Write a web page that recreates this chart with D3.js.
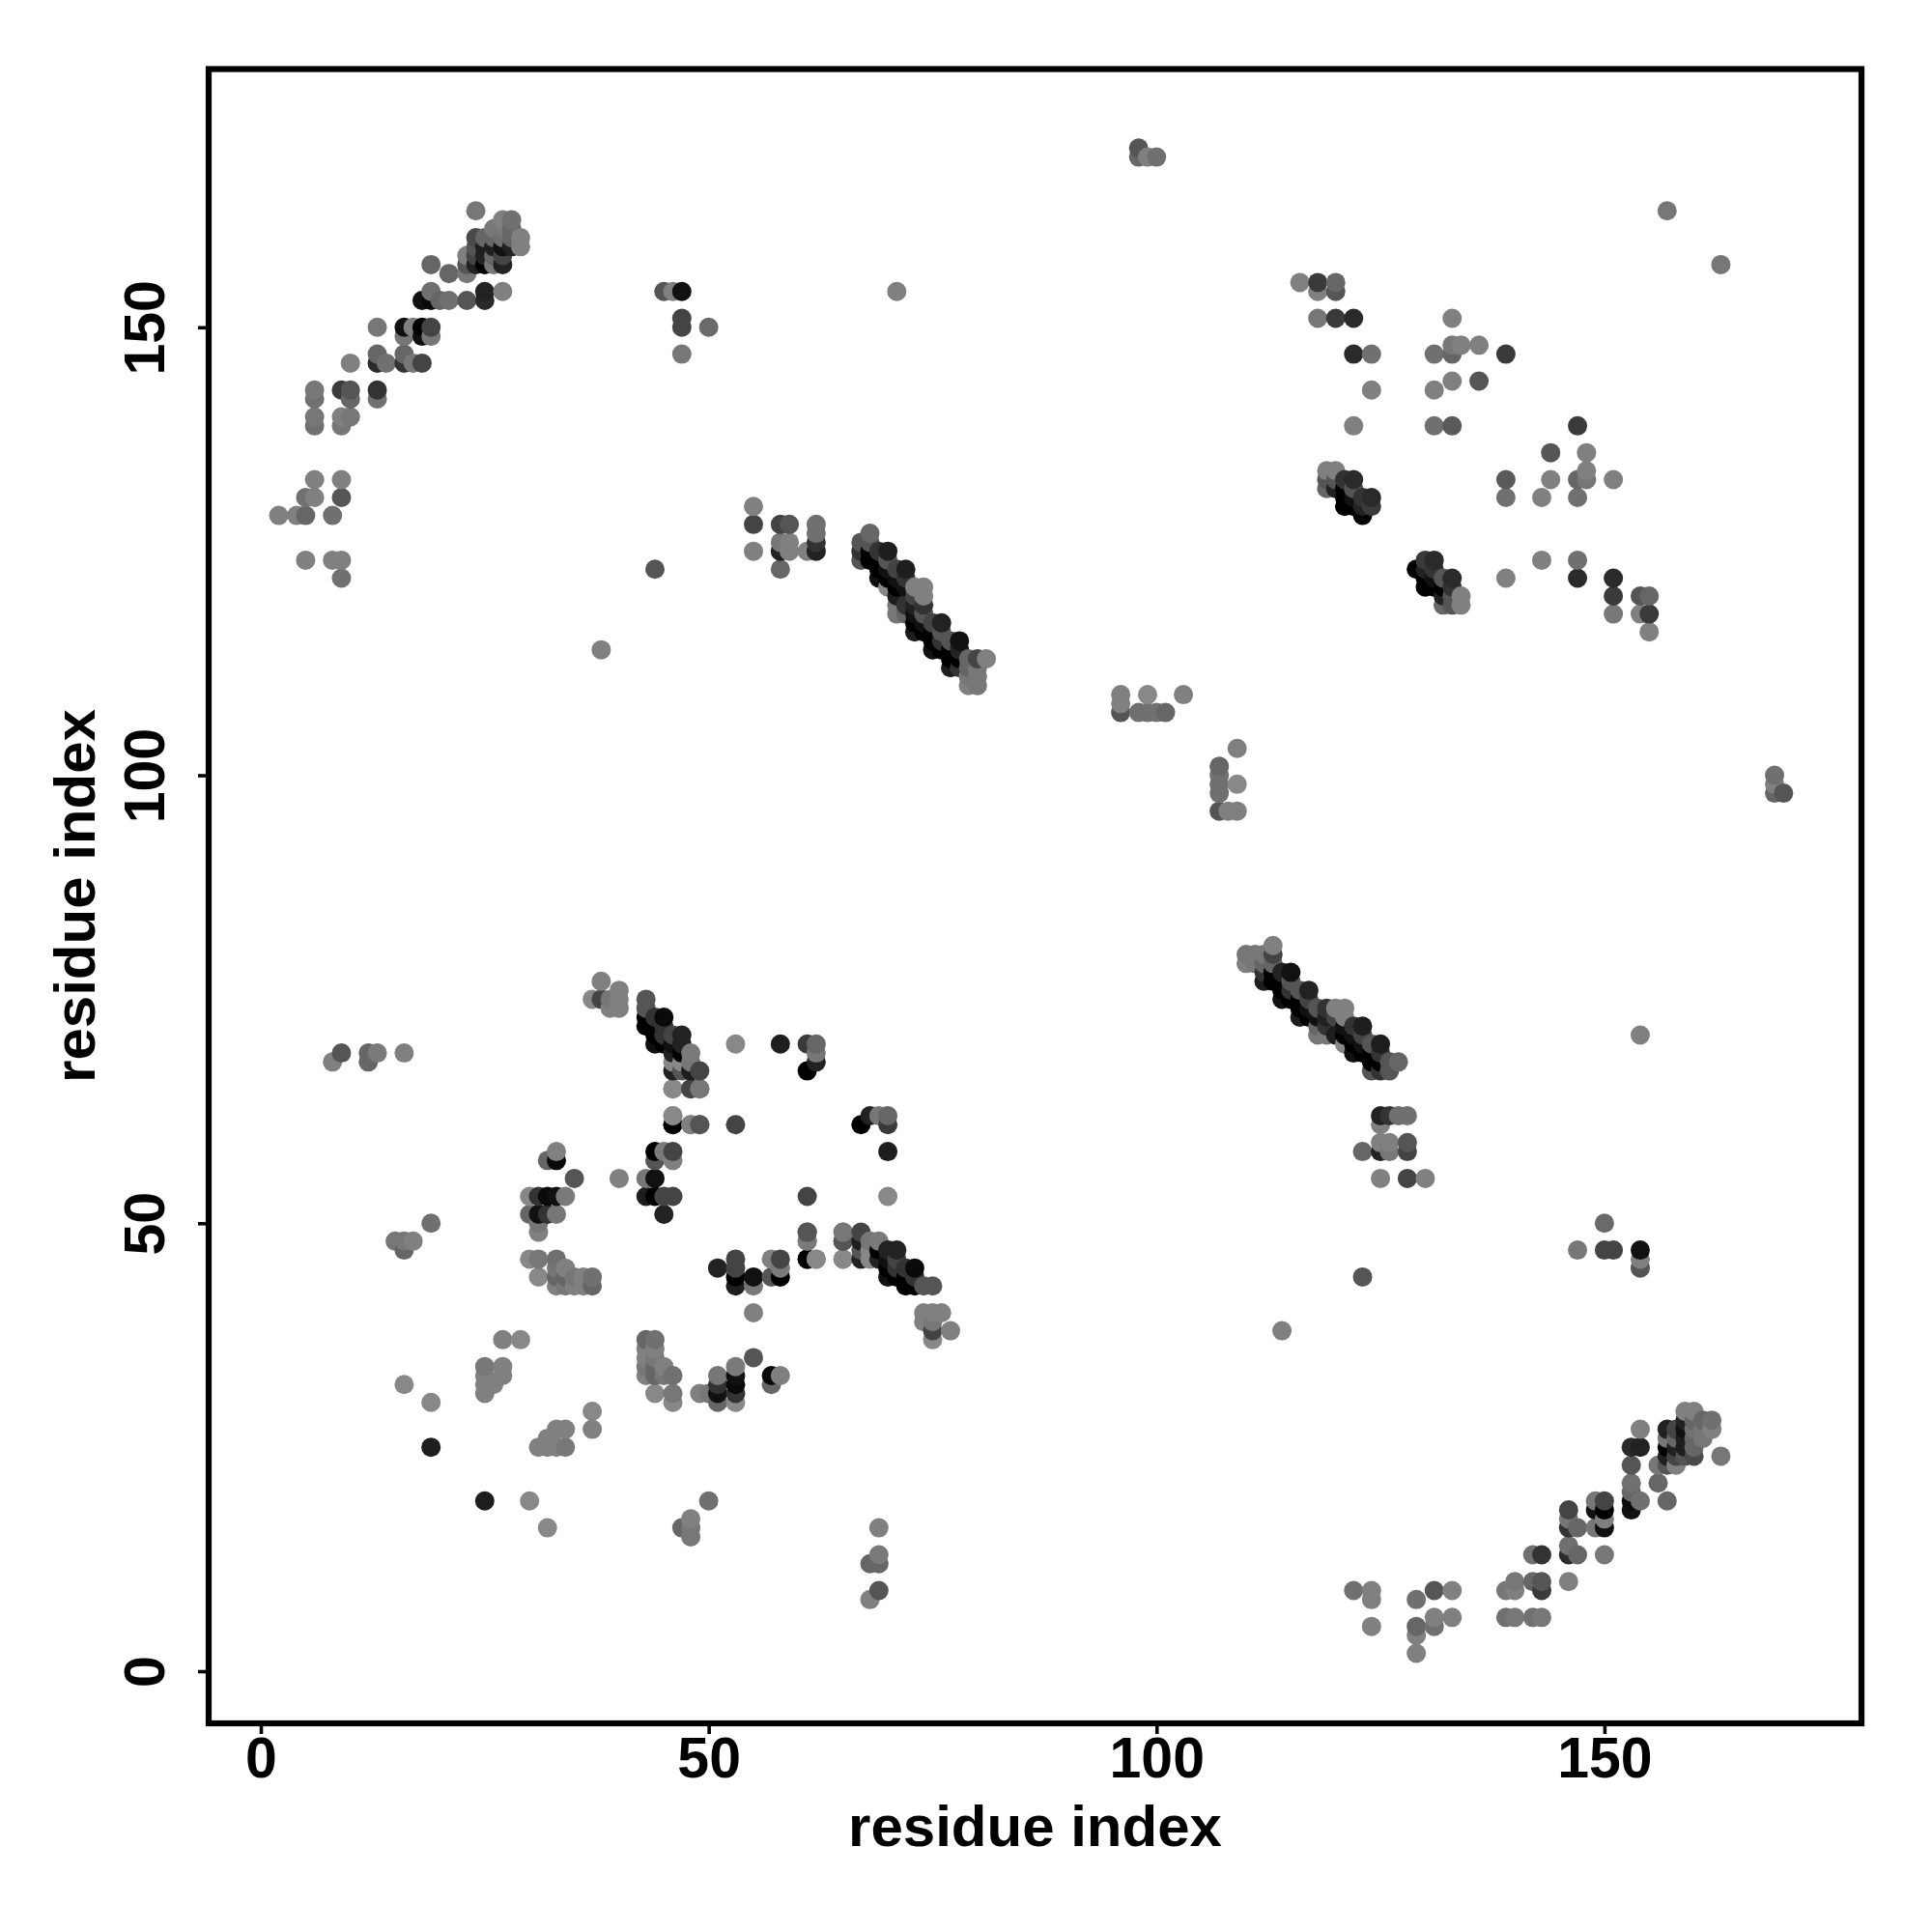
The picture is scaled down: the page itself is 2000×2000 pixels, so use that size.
<!DOCTYPE html>
<html><head><meta charset="utf-8">
<style>html,body{margin:0;background:#fff}svg{display:block}text{font-family:"Liberation Sans",Arial,sans-serif;font-weight:700;fill:#000}</style>
<script src="https://cdn.jsdelivr.net/npm/d3@7/dist/d3.min.js"></script>
</head><body><svg id="c" width="2000" height="2000"></svg>
<script>
// Each contact: [residue i, residue j, grey level 0-136]. The map is symmetric, (j,i) is drawn as well.
const xTicks=[0,50,100,150], yTicks=[0,50,100,150];
const xTitle="residue index", yTitle="residue index";
const cluster68=[[8,68,0x80],[9,69,0x55],[12,69,0x66],[12,68,0x66],[13,69,0x7a],[16,69,0x80]];
const cluster48=[[19,50,0x70],[15,48,0x77],[16,48,0x77],[17,48,0x80],[16,47,0x66]];
const cluster75=[[38,77,0x80],[37,75,0x88],[38,75,0x44],[39,75,0x77],[40,76,0x80],[40,75,0x80],[39,74,0x80],[40,74,0x80]];
const sheet43=[[43,75,0x55],[43,74,0x55],[43,73,0],[43,72,0],[44,73,0x33],[45,73,0x0a],[44,72,0],[44,71,0],[44,70,0x11],[45,72,0x33],[45,71,0x33],[45,70,0],[46,71,0x44],[47,71,0x22],[46,70,0x11],[47,70,0x22],[46,69,0x22],[47,69,0],[48,69,0x7a],[48,68,0x77],[46,68,0x88],[47,68,0x88],[46,67,0x22],[47,67,0x55],[48,67,0x1e],[49,67,0x44],[46,65,0x88],[48,65,0x55],[49,65,0x77],[46,62,0x88],[46,61,0],[48,61,0x7a],[49,61,0x55],[53,61,0x44],[53,70,0x88]];
const cluster58=[[44,58,0],[45,58,0x7a],[46,58,0x44],[44,57,0x55],[46,57,0x80],[43,55,0x77],[44,55,0x11],[40,55,0x80],[43,53,0x1e],[44,53,0],[45,53,0x44],[46,53,0x44],[45,51,0x22]];
const cluster53=[[33,58,0x80],[33,57,0x0a],[32,57,0x66],[35,55,0x55],[30,53,0x88],[31,53,0x33],[32,53,0x0a],[33,53,0x11],[34,53,0x7a],[30,51,0x66],[31,51,0x11],[32,51,0x33],[33,51,0x77],[31,50,0x77],[31,49,0x80]];
const cluster44=[[30,46,0x88],[31,46,0x77],[31,44,0x88],[33,46,0x70],[33,45,0x77],[34,45,0x80],[33,44,0x66],[34,44,0x66],[35,44,0x77],[36,44,0x80],[37,44,0x70],[33,43,0x80],[34,43,0x77],[35,43,0x80],[36,43,0x80],[37,43,0x66]];
const cluster33=[[27,37,0x80],[29,37,0x88],[25,34,0x77],[27,34,0x80],[25,33,0x80],[27,33,0x80],[25,32,0x80],[26,32,0x80],[25,31,0x80],[16,32,0x88],[19,30,0x88],[19,25,0x1e]];
const cluster70=[[58,70,0x1e],[61,70,0x3a],[62,70,0x66],[62,69,0x77],[62,68,0x22],[61,67,0]];
const cluster123=[[62,125,0x22],[62,126,0x33],[62,127,0x70],[62,128,0x70],[61,125,0x80],[58,123,0x66],[59,125,0x80],[59,126,0x80],[59,128,0x55],[58,125,0x22],[58,126,0x77],[58,128,0x44],[55,125,0x80],[55,128,0x44],[55,130,0x80]];
const sheet68=[[68,127,0x66],[67,126,0x55],[67,125,0x33],[67,124,0x55],[68,126,0x55],[68,125,0],[68,124,0],[69,125,0x33],[70,125,0x1e],[69,124,0],[69,123,0],[69,122,0x11],[70,124,0x55],[70,123,0x11],[70,122,0],[71,123,0x44],[72,123,0x1e],[71,122,0x11],[72,122,0x33],[70,121,0x88],[71,121,0],[72,121,0x11],[71,120,0x1e],[73,121,0x80],[74,121,0x80],[73,120,0x44],[74,120,0x80],[71,119,0x77],[72,119,0x33],[73,119,0x22],[74,119,0x33],[71,118,0x77],[72,118,0x66],[73,118,0x11],[74,118,0x55],[73,117,0],[73,116,0x1e],[74,117,0x11],[74,116,0],[75,117,0x44],[76,117,0x22],[75,116,0],[76,116,0x55],[75,115,0],[75,114,0x11],[76,115,0x33],[76,114,0],[77,115,0x55],[78,115,0x11],[77,114,0],[78,114,0x22],[77,113,0],[77,112,0x1e],[78,113,0],[78,112,0x33],[79,113,0x66],[80,113,0x44],[81,113,0x80],[79,112,0x66],[80,112,0x77],[79,111,0x77],[80,111,0x77],[79,110,0x80],[80,110,0x77]];
const cluster129=[[2,129,0x80],[4,129,0x80],[5,129,0x66],[8,129,0x70],[5,131,0x70],[6,131,0x80],[9,131,0x55],[6,133,0x80],[9,133,0x80],[5,124,0x80],[8,124,0x80],[9,124,0x80],[9,122,0x70]];
const cluster143=[[6,143,0x77],[6,142,0x70],[6,140,0x77],[6,139,0x70],[9,143,0x3a],[10,143,0x55],[10,142,0x66],[9,140,0x80],[10,140,0x77],[9,139,0x77],[13,143,0x33],[13,142,0x70]];
const cluster150=[[10,146,0x80],[13,147,0x66],[13,146,0x2a],[14,146,0x70],[16,147,0x66],[16,146,0x33],[17,146,0x77],[18,146,0x44],[13,150,0x77],[16,150,0x11],[16,149,0x77],[17,150,0x80],[18,150,0],[18,149,0x11],[19,150,0x44],[19,149,0x77]];
const cluster154=[[19,154,0x70],[18,153,0x11],[19,153,0x0a],[20,153,0x66],[21,153,0x70],[23,153,0x55],[25,154,0x22],[25,153,0x2a],[27,154,0x80],[19,157,0x66],[21,156,0x66],[24,163,0x77]];
const cluster160=[[23,156,0x77],[23,158,0x80],[23,157,0x55],[24,160,0x4a],[24,159,0x55],[24,158,0x44],[24,157,0x22],[25,157,0],[26,157,0x77],[27,157,0x22],[25,160,0x66],[25,159,0x1e],[25,158,0x22],[26,161,0x77],[26,160,0x66],[26,159,0x1e],[26,158,0x66],[27,159,0x11],[27,158,0x44],[27,162,0x80],[28,162,0x70],[28,161,0x66],[28,160,0x66],[28,159,0x22],[29,160,0x80],[29,159,0x80],[27,161,0x77],[27,160,0x70]];
const cluster46=[[61,49,0x55],[61,48,0x80],[61,46,0],[62,46,0x88],[65,49,0x77],[65,48,0x44],[65,46,0x88]];
const cluster154b=[[45,154,0x55],[46,154,0x80],[47,154,0x11],[47,151,0x44],[47,150,0x44],[47,147,0x77],[50,150,0x6a],[44,123,0x55],[38,114,0x80],[71,154,0x80]];
const cluster107=[[96,109,0x80],[96,108,0x80],[96,107,0x55],[98,107,0x70],[99,109,0x88],[99,107,0x70],[100,107,0x70],[101,107,0x66],[103,109,0x80]];
const cluster170=[[98,170,0x55],[98,169,0x66],[99,169,0x80],[100,169,0x70],[157,163,0x77]];
const cluster150b=[[116,155,0x80],[118,155,0x3a],[118,154,0x80],[120,155,0x66],[120,154,0x55],[118,151,0x77],[120,151,0x3a],[122,151,0x2a],[122,147,0x2a],[124,147,0x70],[124,143,0x80],[122,139,0x80]];
const cluster144=[[133,151,0x80],[131,147,0x70],[133,148,0x77],[133,147,0x66],[134,148,0x80],[136,148,0x80],[139,147,0x3a],[133,144,0x80],[136,144,0x55],[131,143,0x80],[131,139,0x70],[133,139,0x5a]];
const cluster132=[[119,134,0x80],[120,134,0x80],[119,133,0x55],[119,132,0x66],[120,133,0x55],[120,132,0x22],[121,133,0x33],[122,133,0x2a],[121,132,0],[122,132,0x55],[121,131,0],[121,130,0],[122,131,0x11],[122,130,0],[123,131,0x33],[124,131,0x2a],[123,130,0x22],[124,130,0x3a],[123,129,0]];
const contactGroups=[cluster68,cluster48,cluster75,sheet43,cluster58,cluster53,cluster44,cluster33,cluster70,cluster123,sheet68,cluster129,cluster143,cluster150,cluster154,cluster160,cluster46,cluster154b,cluster107,cluster170,cluster150b,cluster144,cluster132];

const x=d3.scaleLinear().domain([-5.825,178.7]).range([216,1927]);
const y=d3.scaleLinear().domain([-5.82,178.82]).range([1784,71.5]);
const shade=d3.scaleLinear().domain([0,136]).range(["#000","#888"]);
const svg=d3.select("#c");
const half=contactGroups.flat();
const pts=half.concat(half.map(d=>[d[1],d[0],d[2]])).sort((a,b)=>a[0]-b[0]||a[1]-b[1]);
svg.append("g").selectAll("circle").data(pts).join("circle")
 .attr("cx",d=>x(d[0])).attr("cy",d=>y(d[1])).attr("r",10).attr("fill",d=>shade(d[2]));
svg.append("rect").attr("x",216).attr("y",71.5).attr("width",1711).attr("height",1712.5)
 .attr("fill","none").attr("stroke","#000").attr("stroke-width",6.2);
const ax=svg.append("g").attr("transform","translate(0,1784)").call(d3.axisBottom(x).tickValues(xTicks).tickSize(11).tickPadding(0).tickSizeOuter(0));
const ay=svg.append("g").attr("transform","translate(216,0)").call(d3.axisLeft(y).tickValues(yTicks).tickSize(11).tickPadding(0).tickSizeOuter(0));
[ax,ay].forEach(a=>{a.select(".domain").remove();a.selectAll("line").attr("stroke","#000").attr("stroke-width",3.6);a.selectAll("text").style("font-size","59px").attr("fill","#000");});
ax.selectAll("text").attr("y",56).attr("dy",0);
ay.selectAll("text").attr("x",0).attr("dy",0).attr("text-anchor","middle").attr("transform","translate(-46,0) rotate(-90)");
svg.append("text").attr("x",1071.5).attr("y",1911).attr("text-anchor","middle").style("font-size","60px").text(xTitle);
svg.append("text").attr("transform","translate(98,927.5) rotate(-90)").attr("text-anchor","middle").style("font-size","60px").text(yTitle);
</script></body></html>
